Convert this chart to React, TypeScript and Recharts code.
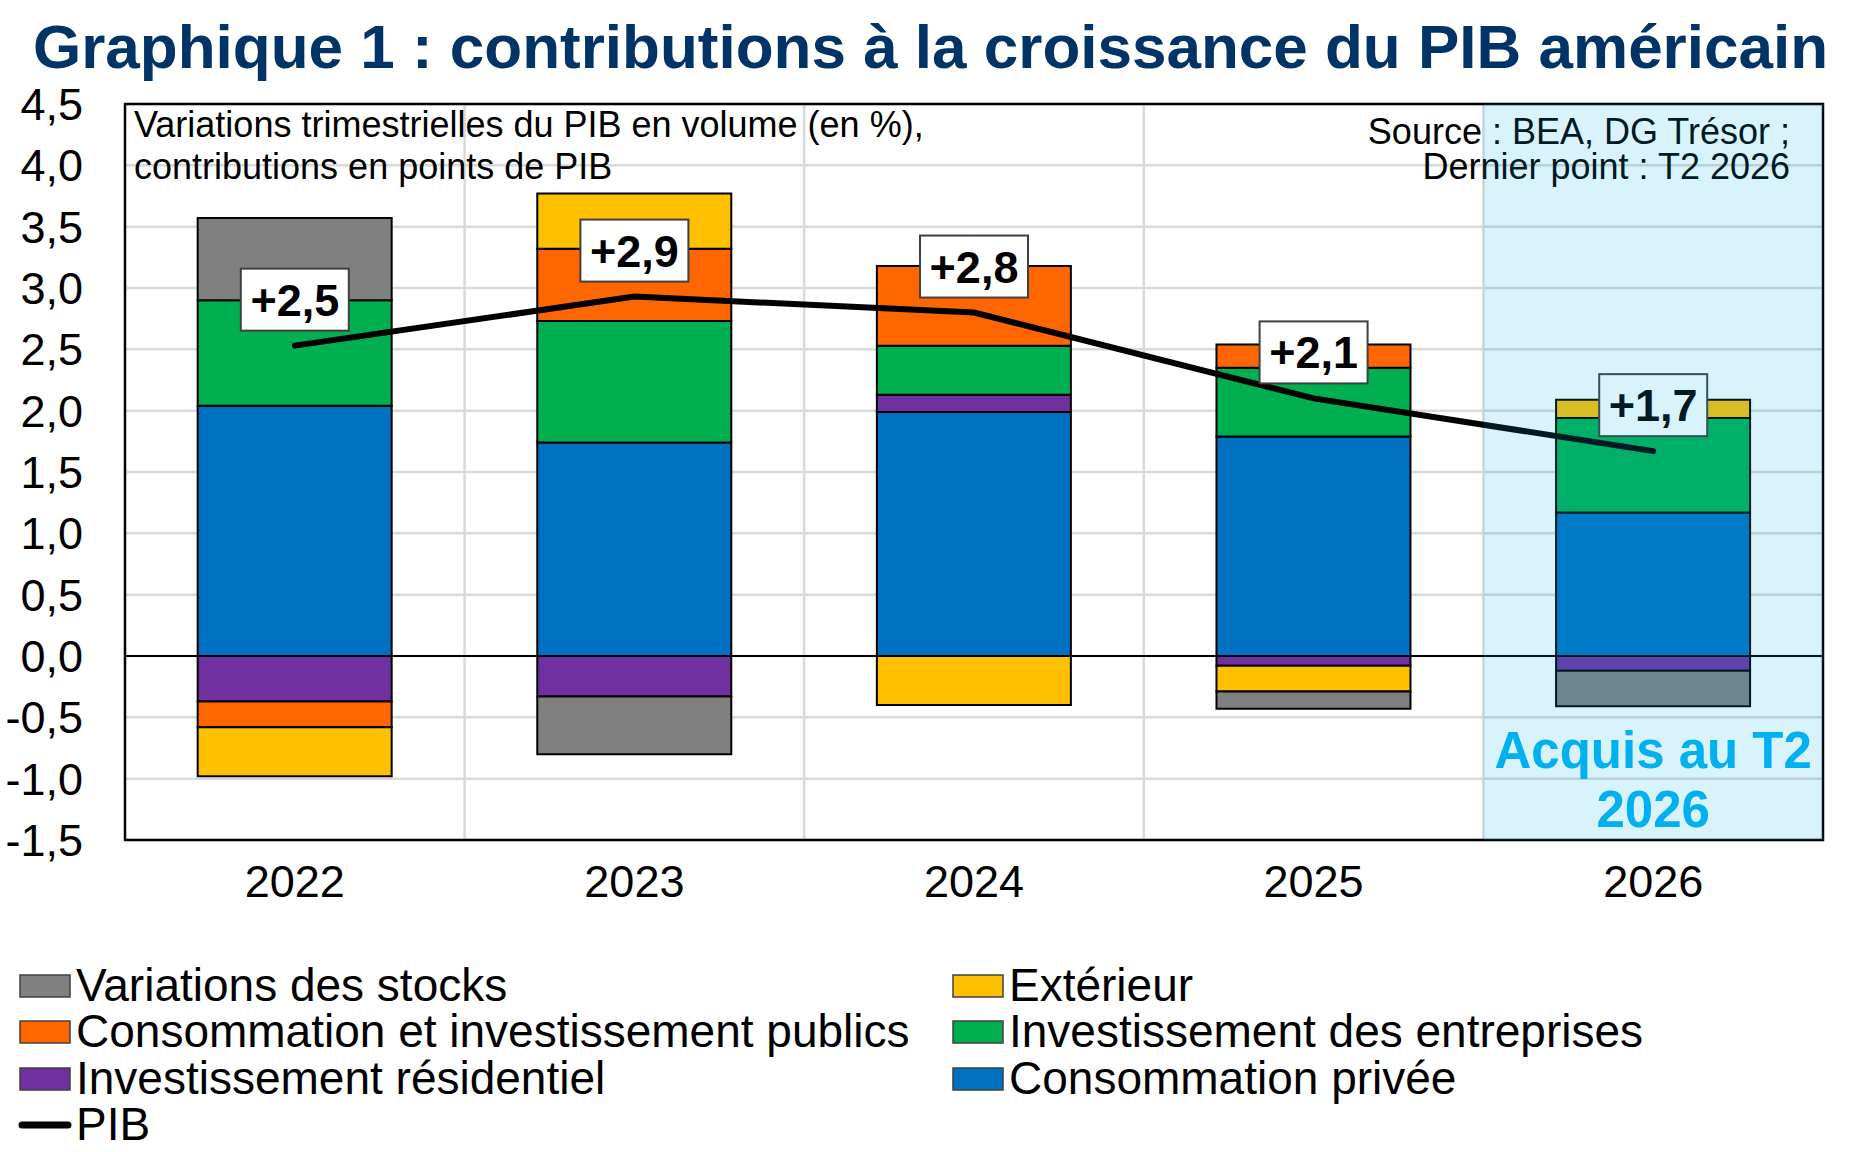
import React from 'react';
import {
  ComposedChart,
  Bar,
  Line,
  XAxis,
  YAxis,
  CartesianGrid,
  ReferenceArea,
  ReferenceLine,
  LabelList,
  Legend,
  Customized,
} from 'recharts';

// ---- Data ----
const years = ['2022', '2023', '2024', '2025', '2026'];
const consoPrivee = [2.04, 1.74, 1.99, 1.79, 1.17];
const invResidentiel = [-0.37, -0.33, 0.14, -0.08, -0.12];
const invEntreprises = [0.86, 0.99, 0.4, 0.56, 0.77];
const consoInvPublics = [-0.21, 0.59, 0.65, 0.19, 0];
const exterieur = [-0.4, 0.45, -0.4, -0.21, 0.15];
const stocks = [0.67, -0.47, 0, -0.14, -0.29];
const pib = [2.53, 2.93, 2.8, 2.1, 1.67];
const yTicks = [-1.5, -1, -0.5, 0, 0.5, 1, 1.5, 2, 2.5, 3, 3.5, 4, 4.5];

const seriesNames = {
  privee: 'Consommation privée',
  residentiel: 'Investissement résidentiel',
  entreprises: 'Investissement des entreprises',
  publics: 'Consommation et investissement publics',
  exterieur: 'Extérieur',
  stocks: 'Variations des stocks',
  pib: 'PIB',
};
const seriesColors = {
  privee: '#0070C0',
  residentiel: '#7030A0',
  entreprises: '#00B050',
  publics: '#FF6600',
  exterieur: '#FFC000',
  stocks: '#808080',
  pib: '#000000',
};
const stackOrder = ['privee', 'residentiel', 'entreprises', 'publics', 'exterieur', 'stocks'];
const legendRows = [
  ['stocks', 'exterieur'],
  ['publics', 'entreprises'],
  ['residentiel', 'privee'],
  ['pib'],
];

const data = years.map((year, i) => ({
  year,
  privee: consoPrivee[i],
  residentiel: invResidentiel[i],
  entreprises: invEntreprises[i],
  publics: consoInvPublics[i],
  exterieur: exterieur[i],
  stocks: stocks[i],
  pib: pib[i],
}));

const FONT = '"Liberation Sans", Arial, Helvetica, sans-serif';
const W = 1860;
const H = 1140;

const fmt = (v: number) => v.toFixed(1).replace('.', ',');

const PibLabel = (props: any) => {
  const { x, y, value } = props;
  const bw = 108;
  const bh = 62;
  const top = y - 77;
  return (
    <g>
      <rect x={x - bw / 2} y={top} width={bw} height={bh} fill="#FFFFFF" stroke="#404040" strokeWidth={2} />
      <text
        x={x}
        y={top + bh - 15}
        textAnchor="middle"
        fontFamily={FONT}
        fontWeight="bold"
        fontSize={45}
        fill="#000"
      >
        {'+' + fmt(value)}
      </text>
    </g>
  );
};

const AcquisLabel = (props: any) => {
  const vb = props.viewBox || {};
  const cx = vb.x + vb.width / 2;
  const bottom = vb.y + vb.height;
  return (
    <g>
      <text x={cx} y={bottom - 72} textAnchor="middle" fontFamily={FONT} fontWeight="bold" fontSize={51} fill="#00B0F0">
        Acquis au T2
      </text>
      <text x={cx} y={bottom - 13} textAnchor="middle" fontFamily={FONT} fontWeight="bold" fontSize={51} fill="#00B0F0">
        2026
      </text>
    </g>
  );
};

const Texts = () => (
  <g>
    <text x={33} y={68} fontFamily={FONT} fontWeight="bold" fontSize={62} fill="#003366">
      Graphique 1 : contributions à la croissance du PIB américain
    </text>
    <text x={134} y={137} fontFamily={FONT} fontSize={36} fill="#000">
      Variations trimestrielles du PIB en volume (en %),
    </text>
    <text x={134} y={179} fontFamily={FONT} fontSize={36} fill="#000">
      contributions en points de PIB
    </text>
    <text x={1790} y={144} textAnchor="end" fontFamily={FONT} fontSize={36} fill="#000">
      Source : BEA, DG Trésor ;
    </text>
    <text x={1790} y={179} textAnchor="end" fontFamily={FONT} fontSize={36} fill="#000">
      Dernier point : T2 2026
    </text>
  </g>
);

const LegendContent = () => {
  const colX = [20, 953];
  const rowY = [36, 82, 129, 175];
  return (
    <svg width={W} height={200} style={{ display: 'block' }}>
      {legendRows.map((row, r) =>
        row.map((key, c) => {
          const x = colX[c];
          const cy = rowY[r];
          return (
            <g key={key}>
              {key === 'pib' ? (
                <line x1={x + 2} y1={cy} x2={x + 48} y2={cy} stroke="#000" strokeWidth={7} strokeLinecap="round" />
              ) : (
                <rect x={x} y={cy - 11} width={50} height={22} fill={(seriesColors as any)[key]} stroke="#404040" strokeWidth={1.5} />
              )}
              <text x={x + 56} y={cy + 15} fontFamily={FONT} fontSize={46} fill="#000">
                {(seriesNames as any)[key]}
              </text>
            </g>
          );
        })
      )}
    </svg>
  );
};

export default function App() {
  return (
    <div style={{ position: 'absolute', left: 0, top: 0, width: W, height: H, background: '#fff' }}>
      <ComposedChart
        width={W}
        height={H}
        data={data}
        stackOffset="sign"
        barCategoryGap="21.4%"
        margin={{ top: 104, right: 37, bottom: 220, left: 0 }}
      >
        <CartesianGrid
          stroke="#D9D9D9"
          strokeWidth={2.5}
          verticalCoordinatesGenerator={(p: any) => {
            const off = p.offset || {};
            const w = off.width ?? p.width - off.left - off.right;
            return [1, 2, 3, 4].map((i) => off.left + (i * w) / years.length);
          }}
        />
        <XAxis
          dataKey="year"
          axisLine={false}
          tickLine={false}
          tickSize={0}
          tickMargin={25}
          height={80}
          interval={0}
          tick={{ fontSize: 45, fill: '#000', fontFamily: FONT }}
        />
        <YAxis
          domain={[-1.5, 4.5]}
          ticks={yTicks}
          allowDataOverflow
          axisLine={false}
          tickLine={false}
          tickSize={0}
          tickMargin={42}
          width={125}
          interval={0}
          tickFormatter={fmt}
          tick={{ fontSize: 45, fill: '#000', fontFamily: FONT }}
        />
        {stackOrder.map((key) => (
          <Bar
            key={key}
            dataKey={key}
            name={(seriesNames as any)[key]}
            stackId="a"
            fill={(seriesColors as any)[key]}
            stroke="#000"
            strokeWidth={2}
            isAnimationActive={false}
          />
        ))}
        <ReferenceLine y={0} stroke="#000" strokeWidth={2} zIndex={350} />
        <Line
          dataKey="pib"
          name={seriesNames.pib}
          type="linear"
          stroke="#000"
          strokeWidth={6}
          strokeLinecap="round"
          dot={false}
          activeDot={false}
          isAnimationActive={false}
        >
          <LabelList dataKey="pib" content={PibLabel} />
        </Line>
        <ReferenceArea
          x1="2022"
          x2="2026"
          y1={-1.5}
          y2={4.5}
          fill="none"
          stroke="#000"
          strokeWidth={2.5}
          zIndex={2400}
        />
        <ReferenceArea
          x1="2026"
          x2="2026"
          y1={-1.5}
          y2={4.5}
          fill="#00B0F0"
          fillOpacity={0.15}
          stroke="none"
          zIndex={2500}
          label={<AcquisLabel />}
        />
        <Legend
          layout="vertical"
          align="center"
          verticalAlign="middle"
          wrapperStyle={{ left: 0, top: 950, width: W }}
          content={<LegendContent />}
        />
        <Customized component={Texts} />
      </ComposedChart>
    </div>
  );
}
